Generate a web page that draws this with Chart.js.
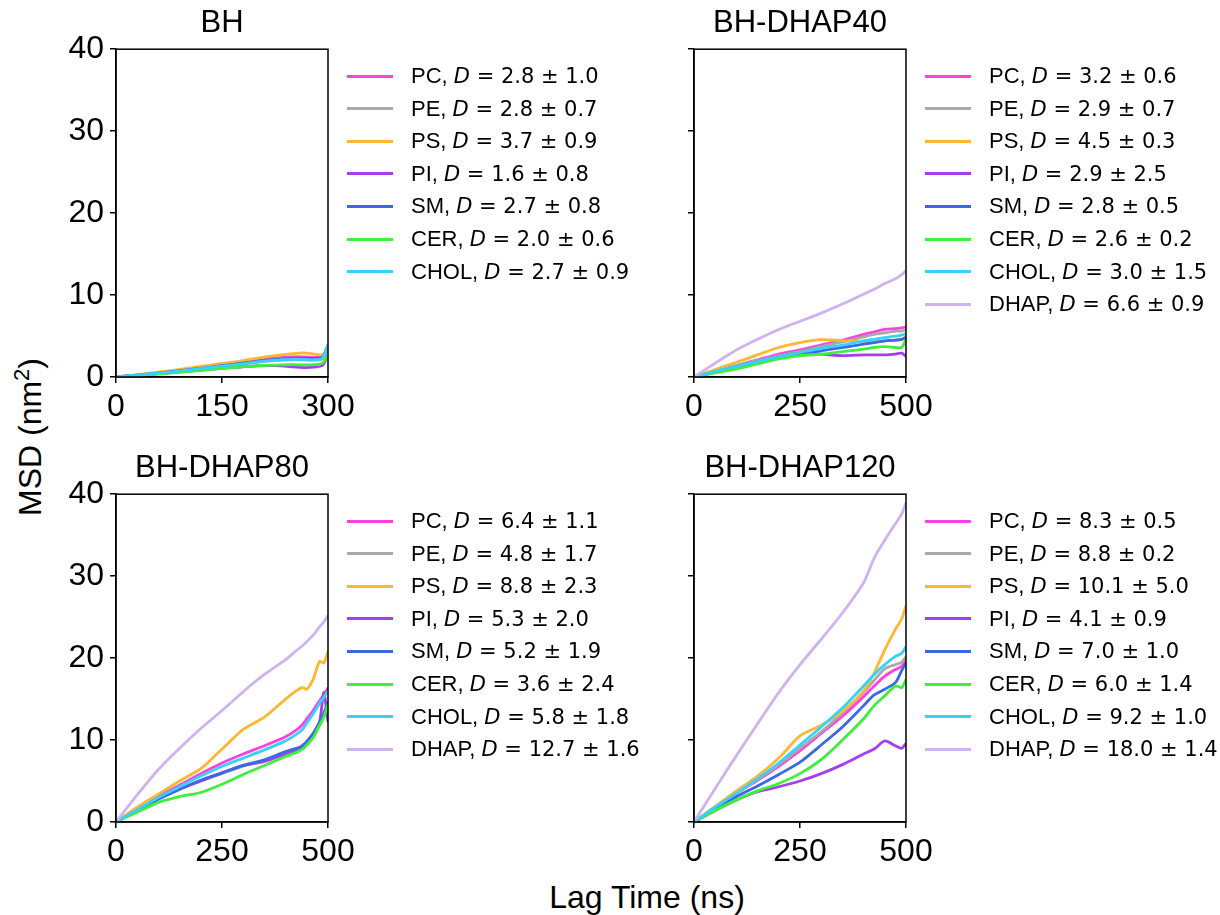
<!DOCTYPE html>
<html>
<head>
<meta charset="utf-8">
<script src="https://cdn.jsdelivr.net/npm/chart.js@4.4.0/dist/chart.umd.min.js"></script>
<style>
  body { margin: 0; background: #fff; }
  #fig { position: relative; width: 1220px; height: 915px; overflow: hidden;
         font-family: "Liberation Sans", Arial, sans-serif; color: #000; background: #fff; }
  #fig canvas { position: absolute; }
  .title { position: absolute; width: 212px; text-align: center; font-size: 31px; line-height: 31px; white-space: nowrap; }
  .row { position: absolute; height: 32px; display: flex; align-items: center; font-size: 22px; white-space: nowrap; }
  .row .h { display: inline-block; width: 46px; height: 3px; margin-right: 18px; }
  .row .m { font-family: "DejaVu Sans", sans-serif; font-size: 21px; }
  .lab { position: absolute; font-size: 32px; line-height: 32px; white-space: nowrap; }
</style>
</head>
<body>
<div id="fig"></div>
<script>
// lipid names and colours (same order in every panel)
const lipids = ['PC', 'PE', 'PS', 'PI', 'SM', 'CER', 'CHOL', 'DHAP'];
const colors = ['#ff40e0', '#a9a9a9', '#ffb732', '#a53ef0', '#3a68e8', '#3cf03c', '#36d1ff', '#cfb2f0'];

// BH
const x1 = [0, 25, 50, 75, 100, 125, 150, 175, 200, 225, 250, 265, 280, 292, 300];
const bhPC   = [0, 0.2, 0.42, 0.65, 0.9, 1.15, 1.45, 1.75, 2.05, 2.3, 2.45, 2.45, 2.4, 2.5, 3.4];
const bhPE   = [0, 0.18, 0.38, 0.6, 0.82, 1.05, 1.3, 1.55, 1.8, 2.0, 2.1, 2.1, 2.05, 2.2, 3.2];
const bhPS   = [0, 0.22, 0.48, 0.75, 1.05, 1.35, 1.65, 1.95, 2.3, 2.6, 2.85, 2.95, 2.8, 2.7, 3.3];
const bhPI   = [0, 0.15, 0.32, 0.5, 0.68, 0.87, 1.05, 1.22, 1.35, 1.38, 1.25, 1.15, 1.2, 1.4, 2.6];
const bhSM   = [0, 0.2, 0.4, 0.62, 0.86, 1.1, 1.38, 1.65, 1.92, 2.15, 2.25, 2.28, 2.25, 2.4, 3.9];
const bhCER  = [0, 0.15, 0.3, 0.48, 0.66, 0.85, 1.05, 1.22, 1.38, 1.45, 1.5, 1.48, 1.5, 1.7, 2.6];
const bhCHOL = [0, 0.2, 0.4, 0.6, 0.84, 1.08, 1.32, 1.58, 1.85, 2.05, 2.15, 2.15, 2.1, 2.3, 3.9];
const bhD    = [2.8, 2.8, 3.7, 1.6, 2.7, 2.0, 2.7];
const bhErr  = [1.0, 0.7, 0.9, 0.8, 0.8, 0.6, 0.9];

// BH-DHAP40
const x2 = [0, 50, 100, 150, 200, 250, 300, 350, 400, 425, 450, 475, 490, 500];
const d40PC   = [0, 0.7, 1.4, 2.1, 2.8, 3.3, 3.9, 4.5, 5.2, 5.5, 5.8, 5.9, 6.0, 6.1];
const d40PE   = [0, 0.7, 1.4, 2.0, 2.6, 3.1, 3.7, 4.3, 4.9, 5.2, 5.4, 5.6, 5.6, 5.8];
const d40PS   = [0, 0.9, 1.8, 2.7, 3.6, 4.2, 4.55, 4.45, 4.3, 4.3, 4.4, 4.5, 4.6, 5.0];
const d40PI   = [0, 0.6, 1.3, 1.9, 2.5, 2.9, 2.8, 2.6, 2.7, 2.7, 2.7, 2.8, 2.9, 2.5];
const d40SM   = [0, 0.6, 1.2, 1.8, 2.4, 2.9, 3.2, 3.6, 4.0, 4.2, 4.4, 4.5, 4.6, 4.8];
const d40CER  = [0, 0.5, 1.0, 1.6, 2.2, 2.6, 2.8, 3.1, 3.4, 3.6, 3.7, 3.6, 3.6, 4.6];
const d40CHOL = [0, 0.7, 1.3, 1.9, 2.5, 3.0, 3.5, 3.9, 4.4, 4.6, 4.8, 5.0, 5.1, 5.3];
const d40DHAP = [0, 1.7, 3.3, 4.6, 5.8, 6.8, 7.8, 8.9, 10.1, 10.7, 11.4, 12.0, 12.5, 13.0];
const d40D    = [3.2, 2.9, 4.5, 2.9, 2.8, 2.6, 3.0, 6.6];
const d40Err  = [0.6, 0.7, 0.3, 2.5, 0.5, 0.2, 1.5, 0.9];

// BH-DHAP80
const x3 = [0, 50, 100, 150, 200, 250, 300, 350, 400, 425, 440, 450, 465, 480, 490, 500];
const d80PC   = [0, 1.6, 3.1, 4.5, 5.9, 7.2, 8.3, 9.3, 10.4, 11.2, 11.9, 12.6, 13.6, 14.8, 15.5, 16.4];
const d80PE   = [0, 1.4, 2.8, 4.0, 5.0, 5.9, 6.8, 7.5, 8.4, 8.9, 9.4, 9.8, 10.6, 11.8, 12.8, 14.0];
const d80PS   = [0, 1.8, 3.4, 5.0, 6.5, 8.9, 11.3, 12.8, 15.0, 16.0, 16.4, 16.2, 17.4, 19.6, 19.4, 20.8];
const d80PI   = [0, 1.4, 2.8, 4.0, 5.0, 6.0, 6.9, 7.4, 8.3, 8.8, 9.3, 9.8, 10.8, 12.2, 15.8, 12.2];
const d80SM   = [0, 1.4, 2.8, 4.0, 5.1, 6.0, 6.9, 7.6, 8.6, 9.0, 9.2, 9.8, 10.8, 12.2, 13.3, 14.6];
const d80CER  = [0, 1.2, 2.4, 3.1, 3.6, 4.6, 5.8, 6.9, 8.0, 8.5, 8.9, 9.4, 10.3, 11.8, 12.8, 14.4];
const d80CHOL = [0, 1.5, 3.0, 4.3, 5.6, 6.8, 7.8, 8.8, 9.9, 10.7, 11.3, 12.1, 13.2, 14.5, 15.2, 16.0];
const d80DHAP = [0, 3.3, 6.4, 9.0, 11.4, 13.6, 15.9, 18.0, 19.8, 20.9, 21.5, 22.0, 22.8, 23.8, 24.4, 25.2];
const d80D    = [6.4, 4.8, 8.8, 5.3, 5.2, 3.6, 5.8, 12.7];
const d80Err  = [1.1, 1.7, 2.3, 2.0, 1.9, 2.4, 1.8, 1.6];

// BH-DHAP120
const x4 = [0, 50, 100, 150, 200, 250, 300, 350, 400, 425, 450, 475, 490, 500];
const d120PC   = [0, 1.8, 3.5, 5.1, 6.8, 8.7, 10.8, 12.9, 15.3, 16.6, 17.8, 18.6, 19.0, 19.8];
const d120PE   = [0, 1.8, 3.5, 5.2, 7.0, 9.0, 11.0, 13.3, 15.8, 17.3, 18.7, 19.2, 19.5, 20.2];
const d120PS   = [0, 1.9, 3.8, 5.6, 7.8, 10.5, 11.8, 13.5, 16.0, 18.2, 21.0, 23.5, 24.8, 26.4];
const d120PI   = [0, 1.4, 2.7, 3.7, 4.3, 5.0, 5.9, 7.0, 8.3, 8.9, 9.9, 9.3, 9.0, 9.6];
const d120SM   = [0, 1.6, 3.1, 4.4, 5.8, 7.3, 9.4, 11.6, 14.2, 15.5, 16.2, 17.0, 18.5, 19.4];
const d120CER  = [0, 1.4, 2.7, 3.8, 4.7, 5.9, 7.6, 10.0, 12.6, 14.2, 15.4, 16.6, 16.4, 17.4];
const d120CHOL = [0, 1.8, 3.5, 5.3, 7.2, 9.4, 11.6, 13.9, 16.6, 18.0, 19.2, 20.2, 20.6, 21.4];
const d120DHAP = [0, 4.1, 8.1, 12.0, 15.8, 19.2, 22.3, 25.5, 29.2, 32.2, 34.4, 36.4, 37.6, 39.0];
const d120D    = [8.3, 8.8, 10.1, 4.1, 7.0, 6.0, 9.2, 18.0];
const d120Err  = [0.5, 0.2, 5.0, 0.9, 1.0, 1.4, 1.0, 1.4];

const yTicks = [0, 10, 20, 30, 40];

const panels = [
  { title: 'BH', left: 116, top: 46, x: x1, xmax: 300, xstep: 150, ylabels: true,
    series: [bhPC, bhPE, bhPS, bhPI, bhSM, bhCER, bhCHOL], D: bhD, err: bhErr, legX: 347 },
  { title: 'BH-DHAP40', left: 694, top: 46, x: x2, xmax: 500, xstep: 250, ylabels: false,
    series: [d40PC, d40PE, d40PS, d40PI, d40SM, d40CER, d40CHOL, d40DHAP], D: d40D, err: d40Err, legX: 925 },
  { title: 'BH-DHAP80', left: 116, top: 491, x: x3, xmax: 500, xstep: 250, ylabels: true,
    series: [d80PC, d80PE, d80PS, d80PI, d80SM, d80CER, d80CHOL, d80DHAP], D: d80D, err: d80Err, legX: 347 },
  { title: 'BH-DHAP120', left: 694, top: 491, x: x4, xmax: 500, xstep: 250, ylabels: false,
    series: [d120PC, d120PE, d120PS, d120PI, d120SM, d120CER, d120CHOL, d120DHAP], D: d120D, err: d120Err, legX: 925 }
];

const PW = 212, PH = 331;          // plot area size
const PADL = 60, PADT = 22, PADR = 40, PADB = 55;
const tickFont = { family: '"Liberation Sans", Arial, sans-serif', size: 32 };

const frame = {
  id: 'frame',
  afterDraw(chart) {
    const { ctx, chartArea: a } = chart;
    ctx.save();
    ctx.strokeStyle = '#000';
    ctx.lineWidth = 1.5;
    ctx.strokeRect(a.left, a.top, a.right - a.left, a.bottom - a.top);
    ctx.restore();
  }
};

const fig = document.getElementById('fig');

panels.forEach(p => {
  const cv = document.createElement('canvas');
  cv.width = PW + PADL + PADR;
  cv.height = PH + PADT + PADB;
  cv.style.left = (p.left - PADL) + 'px';
  cv.style.top = (p.top - PADT) + 'px';
  fig.appendChild(cv);

  const datasets = p.series.map((s, i) => ({
    label: lipids[i],
    data: s.map((v, j) => ({ x: p.x[j], y: v })),
    borderColor: colors[i],
    borderWidth: 2.8,
    pointRadius: 0,
    tension: 0.25,
    fill: false,
    order: -i
  }));

  new Chart(cv.getContext('2d'), {
    type: 'line',
    data: { datasets: datasets },
    options: {
      responsive: false,
      animation: false,
      devicePixelRatio: 1,
      layout: { padding: { left: 0, top: PADT, right: PADR, bottom: 0 } },
      plugins: { legend: { display: false }, tooltip: { enabled: false } },
      scales: {
        x: {
          type: 'linear', min: 0, max: p.xmax,
          afterFit: s => { s.height = PADB; },
          afterBuildTicks: s => { s.ticks = [0, p.xstep, p.xmax].map(v => ({ value: v })); },
          ticks: { color: '#000', font: tickFont, padding: 5, maxRotation: 0 },
          grid: { drawOnChartArea: false, color: '#000', lineWidth: 1.5, tickLength: 6 },
          border: { display: true, color: '#000', width: 1.5 }
        },
        y: {
          min: 0, max: 40,
          afterFit: s => { s.width = PADL; },
          afterBuildTicks: s => { s.ticks = yTicks.map(v => ({ value: v })); },
          ticks: { color: '#000', font: tickFont, padding: 6,
                   callback: v => p.ylabels ? String(v) : '' },
          grid: { drawOnChartArea: false, color: '#000', lineWidth: 1.5, tickLength: 6 },
          border: { display: true, color: '#000', width: 1.5 }
        }
      }
    },
    plugins: [frame]
  });

  const t = document.createElement('div');
  t.className = 'title';
  t.textContent = p.title;
  t.style.left = p.left + 'px';
  t.style.top = (p.top - 40) + 'px';
  fig.appendChild(t);

  p.series.forEach((s, i) => {
    const r = document.createElement('div');
    r.className = 'row';
    r.style.left = p.legX + 'px';
    r.style.top = (p.top + 30 + i * 32.6 - 16) + 'px';
    r.innerHTML = '<span class="h" style="background:' + colors[i] + '"></span>' +
      lipids[i] + ',&nbsp;<span class="m"><i>D</i> = ' + p.D[i].toFixed(1) +
      ' ± ' + p.err[i].toFixed(1) + '</span>';
    fig.appendChild(r);
  });
});

const yl = document.createElement('div');
yl.className = 'lab';
yl.innerHTML = 'MSD (nm<sup style="font-size:22px;line-height:0">2</sup>)';
yl.style.left = '30px';
yl.style.top = '437px';
yl.style.transform = 'translate(-50%,-50%) rotate(-90deg)';
fig.appendChild(yl);

const xl = document.createElement('div');
xl.className = 'lab';
xl.textContent = 'Lag Time (ns)';
xl.style.left = '647px';
xl.style.top = '881px';
xl.style.transform = 'translateX(-50%)';
fig.appendChild(xl);
</script>
</body>
</html>
